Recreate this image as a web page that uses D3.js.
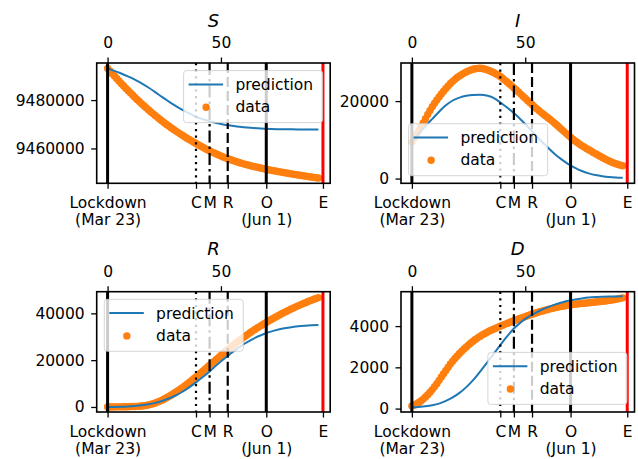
<!DOCTYPE html>
<html>
<head>
<meta charset="utf-8">
<script src="https://cdn.jsdelivr.net/npm/d3@7"></script>
<style>
  html, body { margin: 0; padding: 0; background: #fff; }
  svg { display: block; }
  text { font-family: "DejaVu Sans", sans-serif; }
</style>
</head>
<body>
<svg id="chart" width="638" height="459"></svg>
<script>
// ---------------- data ----------------
// days since lockdown (Mar 23)
const dataDays = d3.range(0, 94);        // observed data, daily
const predDays = d3.range(0, 94, 3);     // model prediction, every 3 days

const S_data = [9493100, 9492040, 9490990, 9489950, 9488920, 9487905, 9486905, 9485915, 9484940, 9483980,
  9483035, 9482105, 9481190, 9480290, 9479405, 9478535, 9477680, 9476840, 9476015, 9475205,
  9474410, 9473630, 9472865, 9472115, 9471380, 9470660, 9469955, 9469265, 9468590, 9467930,
  9467285, 9466655, 9466040, 9465440, 9464850, 9464270, 9463700, 9463140, 9462590, 9462050,
  9461520, 9461000, 9460490, 9459990, 9459500, 9459025, 9458565, 9458120, 9457690, 9457275,
  9456875, 9456490, 9456120, 9455765, 9455425, 9455100, 9454790, 9454490, 9454200, 9453920,
  9453650, 9453390, 9453140, 9452900, 9452668, 9452443, 9452225, 9452013, 9451807, 9451607,
  9451412, 9451222, 9451036, 9450854, 9450676, 9450501, 9450329, 9450160, 9449994, 9449831,
  9449671, 9449513, 9449357, 9449203, 9449051, 9448901, 9448753, 9448607, 9448463, 9448321,
  9448181, 9448043, 9447907, 9447773];
const S_pred = [9493100, 9492100, 9491000, 9489800, 9488500, 9486900, 9485200, 9483300, 9481300, 9479400,
  9477600, 9476000, 9474500, 9473100, 9472100, 9471250, 9470550, 9469950, 9469500, 9469100,
  9468800, 9468550, 9468350, 9468180, 9468070, 9467990, 9467930, 9467900, 9467880, 9467870,
  9467865, 9467860];

const I_data = [9470, 10400, 11340, 12290, 13300, 14380, 15470, 16540, 17580, 18550,
  19450, 20280, 21040, 21830, 22560, 23260, 23920, 24550, 25100, 25610,
  26080, 26500, 26880, 27220, 27530, 27800, 28030, 28220, 28360, 28440,
  28470, 28420, 28300, 28120, 27900, 27650, 27370, 27060, 26720, 26360,
  25900, 25420, 24930, 24430, 23920, 23400, 22870, 22340, 21800, 21260,
  20720, 20180, 19640, 19100, 18570, 18060, 17570, 17090, 16620, 16160,
  15710, 15270, 14770, 14260, 13750, 13230, 12710, 12190, 11670, 11160,
  10650, 10180, 9730, 9300, 8890, 8500, 8130, 7780, 7440, 7100,
  6760, 6420, 6080, 5750, 5430, 5120, 4830, 4550, 4290, 4050,
  3830, 3630, 3460, 3320];
const I_pred = [9470, 11600, 13550, 15400, 17250, 18900, 20150, 20900, 21380, 21600,
  21640, 21450, 20850, 19650, 18350, 16900, 15250, 13450, 11600, 9700,
  8000, 6350, 4950, 3750, 2750, 1950, 1350, 900, 600, 400,
  280, 200];

const R_data = [0, 10, 20, 30, 40, 50, 60, 80, 100, 120,
  150, 180, 220, 270, 330, 400, 520, 680, 880, 1120,
  1400, 1720, 2080, 2480, 2920, 3400, 3920, 4470, 5050, 5650,
  6275, 6920, 7590, 8280, 8990, 9720, 10480, 11250, 12030, 12820,
  13620, 14440, 15270, 16110, 16950, 17800, 18650, 19500, 20340, 21180,
  22020, 22850, 23670, 24480, 25280, 26070, 26840, 27600, 28340, 29060,
  29760, 30450, 31130, 31800, 32450, 33090, 33720, 34340, 34950, 35550,
  36140, 36710, 37270, 37820, 38360, 38890, 39410, 39920, 40420, 40910,
  41390, 41860, 42320, 42770, 43210, 43640, 44060, 44470, 44870, 45260,
  45640, 46010, 46370, 46720];
const R_pred = [0, 20, 80, 200, 400, 700, 1150, 1750, 2550, 3600,
  4900, 6500, 8400, 10500, 12800, 15200, 17800, 20300, 22600, 24800,
  26800, 28500, 30000, 31200, 32200, 33000, 33600, 34100, 34450, 34700,
  34880, 34980];

const D_data = [130, 175, 230, 295, 370, 460, 560, 670, 790, 920,
  1060, 1210, 1370, 1530, 1690, 1850, 2010, 2160, 2300, 2430,
  2550, 2670, 2780, 2890, 2990, 3090, 3180, 3270, 3350, 3430,
  3500, 3570, 3630, 3690, 3750, 3800, 3850, 3900, 3950, 3995,
  4040, 4085, 4130, 4175, 4220, 4260, 4300, 4340, 4380, 4420,
  4460, 4500, 4540, 4575, 4610, 4645, 4680, 4715, 4745, 4775,
  4805, 4835, 4860, 4885, 4910, 4935, 4955, 4975, 4995, 5015,
  5030, 5045, 5060, 5075, 5090, 5100, 5110, 5120, 5130, 5142,
  5154, 5166, 5178, 5190, 5203, 5216, 5230, 5245, 5262, 5280,
  5300, 5320, 5345, 5370];
const D_pred = [60, 80, 110, 160, 240, 370, 540, 760, 1040, 1380,
  1780, 2200, 2640, 3080, 3500, 3880, 4180, 4420, 4610, 4780,
  4920, 5040, 5140, 5230, 5290, 5340, 5380, 5405, 5420, 5432,
  5440, 5445];

// event markers on the bottom axis (days since lockdown)
const eventDays   = [0, 39, 45, 53, 70, 95];
const eventLabels = ["Lockdown\n(Mar 23)", "C", "M", "R", "O\n(Jun 1)", "E"];
const topTicks    = [0, 50];

const seriesNames = ["prediction", "data"];

// ---------------- styling / layout ----------------
const BLUE = "#1f77b4", ORANGE = "#ff7f0e";
const FONT = 15.5;
const DOT_R = 3.7;
const eventStyles = [
  { color: "#000", width: 3,   dash: null },
  { color: "#000", width: 2.2, dash: "2.2,4.4" },
  { color: "#000", width: 2.2, dash: "12,4,2.5,4" },
  { color: "#000", width: 2.2, dash: "10,4" },
  { color: "#000", width: 3,   dash: null },
  { color: "#ff0000", width: 3, dash: null }
];

const colX = [96.7, 401];
const rowY = [63, 291.7];
const PW = 233.5, PH = 120.3;
const xDomain = [-4.8, 98.2];

const panels = [
  { title: "S", data: S_data, pred: S_pred, yDomain: [9445600, 9495330], yTicks: [9460000, 9480000], col: 0, row: 0, legend: "upper right" },
  { title: "I", data: I_data, pred: I_pred, yDomain: [-1220, 29830], yTicks: [0, 20000], col: 1, row: 0, legend: "lower left" },
  { title: "R", data: R_data, pred: R_pred, yDomain: [-2150, 49250], yTicks: [0, 20000, 40000], col: 0, row: 1, legend: "upper left" },
  { title: "D", data: D_data, pred: D_pred, yDomain: [-165, 5667], yTicks: [0, 2000, 4000], col: 1, row: 1, legend: "lower right" }
];

const svg = d3.select("#chart");
svg.append("rect").attr("width", 638).attr("height", 459).attr("fill", "#fff");

panels.forEach((p, pi) => {
  const x0 = colX[p.col], y0 = rowY[p.row];
  const x = d3.scaleLinear().domain(xDomain).range([0, PW]);
  const y = d3.scaleLinear().domain(p.yDomain).range([PH, 0]);

  const g = svg.append("g").attr("transform", `translate(${x0},${y0})`);

  const clipId = "clip" + pi;
  g.append("clipPath").attr("id", clipId)
    .append("rect").attr("width", PW).attr("height", PH);

  const plot = g.append("g").attr("clip-path", `url(#${clipId})`);

  // observed data (dots)
  plot.append("g").selectAll("circle")
    .data(p.data.map((v, i) => [dataDays[i], v]))
    .join("circle")
    .attr("cx", d => x(d[0]))
    .attr("cy", d => y(d[1]))
    .attr("r", DOT_R)
    .attr("fill", ORANGE);

  // prediction (line)
  const line = d3.line().x(d => x(d[0])).y(d => y(d[1])).curve(d3.curveMonotoneX);
  plot.append("path")
    .datum(p.pred.map((v, i) => [predDays[i], v]))
    .attr("d", line)
    .attr("fill", "none")
    .attr("stroke", BLUE)
    .attr("stroke-width", 2);

  // event lines
  eventDays.forEach((d, i) => {
    const st = eventStyles[i];
    plot.append("line")
      .attr("x1", x(d)).attr("x2", x(d))
      .attr("y1", 0).attr("y2", PH)
      .attr("stroke", st.color)
      .attr("stroke-width", st.width)
      .attr("stroke-dasharray", st.dash);
  });

  // frame
  g.append("rect").attr("width", PW).attr("height", PH)
    .attr("fill", "none").attr("stroke", "#000").attr("stroke-width", 1.6);

  // left axis
  const ay = g.append("g").call(d3.axisLeft(y).tickValues(p.yTicks).tickFormat(d3.format("d")).tickSize(5.5).tickPadding(6.5));
  ay.select(".domain").remove();
  ay.attr("font-size", FONT).attr("font-family", "DejaVu Sans");
  ay.selectAll(".tick line").attr("stroke-width", 1.3);
  ay.selectAll(".tick text").attr("fill", "#000");

  // bottom axis with event labels
  const ab = g.append("g").attr("transform", `translate(0,${PH})`)
    .call(d3.axisBottom(x).tickValues(eventDays).tickSize(5.5));
  ab.select(".domain").remove();
  ab.attr("font-size", FONT).attr("font-family", "DejaVu Sans");
  ab.selectAll(".tick line").attr("stroke-width", 1.3);
  ab.selectAll(".tick text").each(function(d, i) {
    const t = d3.select(this);
    t.text(null).attr("dy", null).attr("y", null).attr("fill", "#000");
    eventLabels[i].split("\n").forEach((ln, j) => {
      t.append("tspan").attr("x", 0).attr("y", 25 + j * 17).text(ln);
    });
  });

  // top axis (day numbers)
  const at = g.append("g").call(d3.axisTop(x).tickValues(topTicks).tickSize(5.5).tickPadding(9.2));
  at.select(".domain").remove();
  at.attr("font-size", FONT).attr("font-family", "DejaVu Sans");
  at.selectAll(".tick line").attr("stroke-width", 1.3);
  at.selectAll(".tick text").attr("fill", "#000");

  // title
  g.append("text")
    .attr("x", PW / 2).attr("y", -36.4)
    .attr("text-anchor", "middle")
    .attr("font-size", 18)
    .attr("font-style", "italic")
    .attr("fill", "#000")
    .text(p.title);

  // legend
  const LW = 139, LH = 52, inset = 7.6;
  let lx, ly;
  if (p.legend === "upper right") { lx = PW - inset - LW; ly = inset; }
  else if (p.legend === "lower left") { lx = inset; ly = PH - inset - LH; }
  else if (p.legend === "upper left") { lx = inset; ly = inset; }
  else { lx = PW - inset - LW; ly = PH - inset - LH; }
  const lg = g.append("g").attr("transform", `translate(${lx},${ly})`);
  lg.append("rect").attr("width", LW).attr("height", LH).attr("rx", 3)
    .attr("fill", "#fff").attr("fill-opacity", 0.8)
    .attr("stroke", "#ccc").attr("stroke-opacity", 0.8).attr("stroke-width", 1);
  lg.append("line").attr("x1", 5).attr("x2", 39.5).attr("y1", 13.8).attr("y2", 13.8)
    .attr("stroke", BLUE).attr("stroke-width", 2);
  lg.append("circle").attr("cx", 22.5).attr("cy", 36.6).attr("r", DOT_R).attr("fill", ORANGE);
  seriesNames.forEach((nm, i) => {
    lg.append("text").attr("x", 51.8).attr("y", 19.3 + i * 22.3)
      .attr("font-size", FONT).attr("fill", "#000").text(nm);
  });
});
</script>
</body>
</html>
